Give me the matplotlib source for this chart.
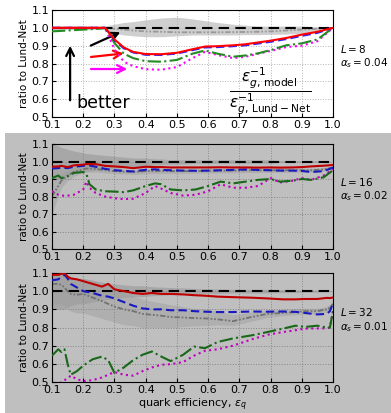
import matplotlib
matplotlib.use("Agg")
import matplotlib.pyplot as plt
from matplotlib.patches import Rectangle

# ---- data ----
# L = 8, alpha_s = 0.04
x8 = [0.10, 0.15, 0.20, 0.25, 0.27, 0.30, 0.33, 0.36, 0.40, 0.45, 0.50,
      0.55, 0.59, 0.63, 0.68, 0.72, 0.76, 0.80, 0.85, 0.90, 0.95, 1.00]
red8 = [1.0, 1.0, 1.0, 1.0, 1.0, 0.935, 0.89, 0.865, 0.853, 0.852, 0.86,
        0.88, 0.895, 0.897, 0.902, 0.908, 0.918, 0.928, 0.943, 0.962, 0.978, 1.0]
blue8 = [1.0, 1.0, 1.0, 1.0, 1.0, 0.93, 0.885, 0.862, 0.849, 0.848, 0.856,
         0.875, 0.89, 0.892, 0.897, 0.902, 0.912, 0.922, 0.937, 0.955, 0.972, 1.0]
green8 = [0.98, 0.985, 0.99, 0.995, 1.0, 0.915, 0.855, 0.83, 0.813, 0.81, 0.82,
          0.855, 0.873, 0.855, 0.838, 0.845, 0.857, 0.875, 0.902, 0.913, 0.935, 1.0]
mag8 = [1.0, 1.0, 1.0, 1.0, 1.0, 0.88, 0.81, 0.785, 0.768, 0.765, 0.78,
        0.83, 0.865, 0.848, 0.83, 0.838, 0.855, 0.87, 0.892, 0.9, 0.925, 1.0]
gray8 = [1.0, 1.0, 1.0, 1.0, 1.0, 0.995, 0.99, 0.985, 0.98, 0.978, 0.975,
         0.975, 0.975, 0.975, 0.976, 0.977, 0.978, 0.98, 0.985, 0.99, 0.995, 1.0]
band8_hi = [1.01, 1.01, 1.01, 1.01, 1.01, 1.02, 1.03, 1.035, 1.045, 1.055, 1.06,
            1.05, 1.04, 1.03, 1.02, 1.015, 1.01, 1.01, 1.01, 1.01, 1.005, 1.0]
band8_lo = [0.99, 0.99, 0.99, 0.99, 0.99, 0.97, 0.96, 0.955, 0.95, 0.95, 0.955,
            0.96, 0.96, 0.96, 0.96, 0.962, 0.962, 0.963, 0.965, 0.97, 0.985, 1.0]

# L = 16, alpha_s = 0.02
x16 = [0.10, 0.12, 0.13, 0.15, 0.17, 0.20, 0.21, 0.22, 0.24, 0.27, 0.30, 0.33,
       0.36, 0.40, 0.43, 0.45, 0.48, 0.52, 0.56, 0.60, 0.64, 0.68, 0.72, 0.76,
       0.80, 0.83, 0.87, 0.90, 0.93, 0.97, 1.00]
red16 = [0.97, 0.972, 0.975, 0.968, 0.978, 0.982, 0.985, 0.985, 0.985, 0.975, 0.972,
         0.968, 0.962, 0.97, 0.968, 0.968, 0.966, 0.966, 0.966, 0.966, 0.967, 0.966,
         0.966, 0.965, 0.966, 0.965, 0.966, 0.968, 0.972, 0.976, 0.98]
blue16 = [0.96, 0.962, 0.965, 0.962, 0.97, 0.975, 0.978, 0.977, 0.97, 0.958, 0.95,
          0.947, 0.943, 0.953, 0.955, 0.952, 0.95, 0.948, 0.947, 0.948, 0.95, 0.952,
          0.955, 0.952, 0.95, 0.948, 0.948, 0.946, 0.94, 0.945, 0.965]
green16 = [0.905, 0.92, 0.905, 0.915, 0.935, 0.94, 0.93, 0.87, 0.84, 0.83, 0.828,
           0.825, 0.835, 0.86, 0.875, 0.87, 0.84, 0.835, 0.84, 0.86, 0.885, 0.875,
           0.885, 0.895, 0.90, 0.885, 0.89, 0.90, 0.895, 0.91, 0.95]
mag16 = [0.83, 0.81, 0.805, 0.805, 0.81, 0.84, 0.885, 0.85, 0.82, 0.80, 0.79,
         0.785, 0.787, 0.82, 0.86, 0.845, 0.82, 0.805, 0.81, 0.83, 0.87, 0.85,
         0.85, 0.86, 0.905, 0.88, 0.89, 0.905, 0.895, 0.92, 0.955]
gray16 = [0.80, 0.86, 0.89, 0.92, 0.94, 0.955, 0.96, 0.96, 0.958, 0.95, 0.945,
          0.942, 0.94, 0.945, 0.946, 0.946, 0.945, 0.945, 0.946, 0.947, 0.948, 0.948,
          0.95, 0.95, 0.95, 0.95, 0.95, 0.95, 0.95, 0.955, 0.965]
gray16_lo = [0.70, 0.80, 0.85, 0.89, 0.915, 0.935, 0.94, 0.94, 0.94, 0.935, 0.93,
             0.928, 0.926, 0.93, 0.932, 0.932, 0.932, 0.932, 0.933, 0.934, 0.935, 0.935,
             0.937, 0.937, 0.938, 0.938, 0.938, 0.938, 0.938, 0.944, 0.955]
gray16_hi = [0.90, 0.92, 0.93, 0.95, 0.965, 0.975, 0.98, 0.98, 0.976, 0.965, 0.96,
             0.956, 0.954, 0.96, 0.96, 0.96, 0.958, 0.958, 0.959, 0.96, 0.961, 0.961,
             0.963, 0.963, 0.962, 0.962, 0.962, 0.962, 0.962, 0.966, 0.975]
band16_hi = [1.1, 1.09, 1.08, 1.07, 1.06, 1.05, 1.045, 1.045, 1.04, 1.035, 1.03,
             1.025, 1.02, 1.02, 1.015, 1.015, 1.01, 1.01, 1.01, 1.01, 1.01, 1.01,
             1.01, 1.01, 1.01, 1.005, 1.005, 1.005, 1.005, 1.005, 1.0]
band16_lo = [0.9, 0.9, 0.91, 0.92, 0.93, 0.94, 0.945, 0.945, 0.95, 0.955, 0.96,
             0.965, 0.97, 0.975, 0.98, 0.98, 0.985, 0.985, 0.99, 0.99, 0.99, 0.99,
             0.99, 0.99, 0.99, 0.995, 0.995, 0.995, 0.995, 0.995, 1.0]

# L = 32, alpha_s = 0.01
x32 = [0.10, 0.12, 0.13, 0.14, 0.15, 0.16, 0.18, 0.20, 0.23, 0.26, 0.28, 0.30,
       0.33, 0.36, 0.39, 0.42, 0.45, 0.48, 0.52, 0.555, 0.59, 0.63, 0.68, 0.74,
       0.79, 0.84, 0.88, 0.91, 0.95, 0.98, 0.99, 1.00]
red32 = [1.09, 1.09, 1.095, 1.1, 1.08, 1.07, 1.065, 1.055, 1.04, 1.025, 1.04, 1.01,
         1.0, 0.99, 0.985, 0.99, 0.985, 0.985, 0.982, 0.978, 0.975, 0.97, 0.967, 0.964,
         0.96, 0.955, 0.955, 0.957, 0.957, 0.963, 0.962, 0.965]
blue32 = [1.06, 1.065, 1.078, 1.09, 1.07, 1.04, 1.02, 1.0, 0.99, 0.975, 0.97, 0.96,
          0.94, 0.92, 0.905, 0.9, 0.9, 0.895, 0.895, 0.89, 0.887, 0.885, 0.885, 0.888,
          0.887, 0.888, 0.886, 0.88, 0.872, 0.875, 0.89, 0.935]
green32 = [0.645, 0.68, 0.665, 0.68, 0.6, 0.54, 0.56, 0.59, 0.625, 0.64, 0.62, 0.55,
           0.58, 0.62, 0.65, 0.668, 0.64, 0.615, 0.65, 0.695, 0.686, 0.72, 0.74, 0.757,
           0.775, 0.794, 0.81, 0.803, 0.81, 0.80, 0.80, 0.89]
mag32 = [0.45, 0.48, 0.50, 0.51, 0.52, 0.535, 0.515, 0.505, 0.51, 0.525, 0.54, 0.555,
         0.54, 0.535, 0.56, 0.58, 0.595, 0.598, 0.61, 0.645, 0.672, 0.68, 0.70, 0.735,
         0.76, 0.775, 0.785, 0.794, 0.795, 0.795, 0.80, 0.89]
gray32 = [1.04, 1.04, 1.035, 1.02, 1.0, 0.985, 0.98, 0.985, 0.965, 0.945, 0.93, 0.915,
          0.9, 0.89, 0.875, 0.87, 0.865, 0.858, 0.855, 0.852, 0.85, 0.845, 0.835, 0.858,
          0.875, 0.88, 0.885, 0.89, 0.89, 0.9, 0.91, 0.93]
gray32_lo = [0.93, 0.93, 0.93, 0.92, 0.9, 0.89, 0.88, 0.88, 0.865, 0.85, 0.84, 0.83,
             0.815, 0.81, 0.8, 0.8, 0.8, 0.8, 0.805, 0.81, 0.81, 0.815, 0.81, 0.835,
             0.855, 0.865, 0.87, 0.875, 0.875, 0.885, 0.895, 0.92]
gray32_hi = [1.1, 1.1, 1.1, 1.1, 1.09, 1.08, 1.07, 1.07, 1.06, 1.04, 1.03, 1.01,
             0.99, 0.975, 0.955, 0.945, 0.935, 0.925, 0.915, 0.905, 0.9, 0.89, 0.87, 0.885,
             0.895, 0.9, 0.905, 0.905, 0.905, 0.915, 0.925, 0.94]
band32_hi = [1.1, 1.1, 1.1, 1.1, 1.09, 1.08, 1.07, 1.07, 1.06, 1.05, 1.045, 1.04,
             1.035, 1.03, 1.03, 1.025, 1.022, 1.02, 1.018, 1.015, 1.013, 1.012, 1.01, 1.01,
             1.01, 1.008, 1.007, 1.006, 1.005, 1.004, 1.003, 1.0]
band32_lo = [0.90, 0.90, 0.9, 0.9, 0.91, 0.92, 0.93, 0.93, 0.94, 0.95, 0.955, 0.96,
             0.965, 0.97, 0.97, 0.975, 0.978, 0.98, 0.982, 0.985, 0.987, 0.988, 0.99, 0.99,
             0.99, 0.992, 0.993, 0.994, 0.995, 0.996, 0.997, 1.0]

panel_labels = [("$L = 8$", r"$\alpha_s = 0.04$"),
                ("$L = 16$", r"$\alpha_s = 0.02$"),
                ("$L = 32$", r"$\alpha_s = 0.01$")]
ticks = [0.1, 0.2, 0.3, 0.4, 0.5, 0.6, 0.7, 0.8, 0.9, 1.0]
yticks = [0.5, 0.6, 0.7, 0.8, 0.9, 1.0, 1.1]

panels = [
    (x8, red8, blue8, green8, mag8, gray8, None, None, band8_lo, band8_hi),
    (x16, red16, blue16, green16, mag16, gray16, gray16_lo, gray16_hi, band16_lo, band16_hi),
    (x32, red32, blue32, green32, mag32, gray32, gray32_lo, gray32_hi, band32_lo, band32_hi),
]
band_alpha = [0.85, 0.55, 0.55]

W, H = 391, 413
fig = plt.figure(figsize=(W / 100, H / 100), dpi=100)
# axes extents in pixels: (top, bottom)
boxes = [(10, 117), (144, 249), (273, 382)]
left, right = 52, 333

axes = []
for (top, bot), data, (ltxt, atxt), ba in zip(boxes, panels, panel_labels, band_alpha):
    ax = fig.add_axes([left / W, (H - bot) / H, (right - left) / W, (bot - top) / H])
    x, red, blue, green, mag, gray, glo, ghi, blo, bhi = data
    ax.fill_between(x, blo, bhi, color="0.78", alpha=ba, lw=0, zorder=1)
    if glo is not None:
        ax.fill_between(x, glo, ghi, color="0.82", alpha=0.45, lw=0, zorder=1)
    ax.axhline(1.0, color="k", ls=(0, (5, 3)), lw=1.5, zorder=3)
    ax.plot(x, gray, color="0.6", ls=(0, (3, 1, 1, 1, 1, 1)), lw=1.3, zorder=2)
    ax.plot(x, mag, color="#ff00ff", ls=":", lw=1.5, zorder=4)
    ax.plot(x, green, color="#228b22", ls="-.", lw=1.5, zorder=4)
    ax.plot(x, blue, color="#2222ff", ls=(0, (4, 2)), lw=1.5, zorder=5)
    ax.plot(x, red, color="#ff0000", ls="-", lw=1.5, zorder=6)

    ax.set_xlim(0.1, 1.0)
    ax.set_ylim(0.5, 1.1)
    ax.set_xticks(ticks)
    ax.set_yticks(yticks)
    ax.tick_params(direction="in", labelsize=8, length=3, pad=2)
    ax.grid(True, ls=":", color="0.7", lw=0.7)
    ax.set_ylabel("ratio to Lund-Net", fontsize=7.5, labelpad=2)
    ax.text(1.025, 0.64, ltxt, transform=ax.transAxes, fontsize=7.5, va="center")
    ax.text(1.025, 0.5, atxt, transform=ax.transAxes, fontsize=7.5, va="center")
    axes.append(ax)

axes[2].set_xlabel(r"quark efficiency, $\varepsilon_q$", fontsize=8, labelpad=1)

# annotations in the top panel
top_ax = axes[0]
arr = dict(arrowstyle="->", lw=1.6, mutation_scale=14)
top_ax.annotate("", xy=(0.158, 0.915), xytext=(0.158, 0.578), arrowprops=dict(arr, color="k"))
top_ax.annotate("", xy=(0.327, 0.982), xytext=(0.216, 0.894), arrowprops=dict(arr, color="k"))
top_ax.annotate("", xy=(0.338, 0.858), xytext=(0.216, 0.835), arrowprops=dict(arr, color="#ff0000"))
top_ax.annotate("", xy=(0.35, 0.769), xytext=(0.216, 0.769), arrowprops=dict(arr, color="#ff00ff"))
top_ax.text(0.178, 0.55, "better", fontsize=12.5, va="baseline")
top_ax.text(0.80, 0.645,
            r"$\dfrac{\varepsilon^{-1}_{g,\,\mathrm{model}}}{\varepsilon^{-1}_{g,\,\mathrm{Lund-Net}}}$",
            fontsize=11, ha="center", va="center")

# grey shading over the lower two panels
fig.add_artist(Rectangle((5 / W, 0), (W - 5) / W, (H - 133) / H, transform=fig.transFigure,
                         facecolor="k", alpha=0.25, lw=0, zorder=10))

fig.savefig("out.png", dpi=100)
